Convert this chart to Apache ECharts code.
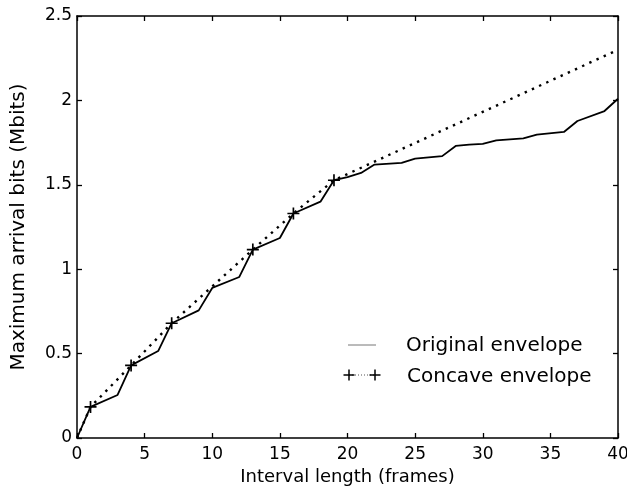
<!DOCTYPE html>
<html><head><meta charset="utf-8">
<script src="https://cdn.jsdelivr.net/npm/echarts@6/dist/echarts.min.js"></script>
<style>html,body{margin:0;padding:0;background:#fff}#c{width:627px;height:489px}</style>
</head><body><div id="c"></div>
<script>
// Original envelope (kink points, x in frames, y in Mbits)
const origX = [0, 1, 3, 4, 6, 7, 9, 10, 12, 13, 15, 16, 18, 19, 20, 21, 22, 24, 25, 27, 28, 29, 30, 31, 33, 34, 36, 37, 39, 40];
const origY = [0, 0.184, 0.255, 0.43, 0.515, 0.68, 0.756, 0.889, 0.954, 1.116, 1.185, 1.33, 1.40, 1.527, 1.546, 1.57, 1.62, 1.63, 1.655, 1.67, 1.73, 1.738, 1.742, 1.763, 1.775, 1.797, 1.813, 1.878, 1.937, 2.01];
// Concave envelope
const concX = [0, 1, 4, 7, 13, 16, 19, 40];
const concY = [0, 0.184, 0.43, 0.68, 1.116, 1.33, 1.527, 2.30];
const concMarked = [false, true, true, true, true, true, true, false];
const xTicks = [0, 5, 10, 15, 20, 25, 30, 35, 40];
const yTicks = [0, 0.5, 1, 1.5, 2, 2.5];

const plus = 'path://M4.3,0h1.4v10h-1.4z M0,4.3h10v1.4h-10z';
const font = 'DejaVu Sans, sans-serif';
const chart = echarts.init(document.getElementById('c'), null, {renderer: 'canvas'});
const axisCommon = {
  axisLine: {show: true, onZero: false, lineStyle: {color: '#000', width: 1.5}},
  axisTick: {show: true, inside: true, length: 5, lineStyle: {color: '#000', width: 1.3}},
  splitLine: {show: false}
};
function crossG(cx, cy) {
  return [
    {type: 'line', shape: {x1: cx - 5.5, y1: cy, x2: cx + 5.5, y2: cy}, style: {stroke: '#000', lineWidth: 1.5}},
    {type: 'line', shape: {x1: cx, y1: cy - 5.5, x2: cx, y2: cy + 5.5}, style: {stroke: '#000', lineWidth: 1.5}}
  ];
}
chart.setOption({
  animation: false,
  backgroundColor: '#fff',
  grid: {left: 77, right: 9, top: 16, bottom: 51, containLabel: false, outerBoundsMode: 'none'},
  xAxis: [
    Object.assign({type: 'value', min: 0, max: 40, interval: 5, position: 'bottom',
      name: 'Interval length (frames)', nameLocation: 'middle', nameGap: 29,
      nameTextStyle: {fontFamily: font, fontSize: 18, color: '#000'},
      axisLabel: {fontFamily: font, fontSize: 17, color: '#000', margin: 8,
        formatter: v => xTicks.includes(v) ? String(v) : ''}}, axisCommon),
    Object.assign({type: 'value', min: 0, max: 40, interval: 5, position: 'top',
      axisLabel: {show: false}}, axisCommon)
  ],
  yAxis: [
    Object.assign({type: 'value', min: 0, max: 2.5, interval: 0.5, position: 'left',
      name: 'Maximum arrival bits (Mbits)', nameLocation: 'middle', nameGap: 48, nameRotate: 90,
      nameTextStyle: {fontFamily: font, fontSize: 20, color: '#000'},
      axisLabel: {fontFamily: font, fontSize: 17, color: '#000', margin: 5,
        formatter: v => yTicks.includes(v) ? String(v) : ''}}, axisCommon),
    Object.assign({type: 'value', min: 0, max: 2.5, interval: 0.5, position: 'right',
      axisLabel: {show: false}}, axisCommon)
  ],
  series: [
    {
      type: 'line', name: 'Original envelope',
      data: origX.map((x, i) => [x, origY[i]]),
      symbol: 'none', lineStyle: {color: '#000', width: 1.8}, z: 3
    },
    {
      type: 'line', name: 'Concave envelope',
      data: concX.map((x, i) => ({value: [x, concY[i]], symbol: concMarked[i] ? plus : 'none'})),
      symbolSize: 12, showSymbol: true,
      itemStyle: {color: '#000'},
      lineStyle: {color: '#000', width: 2.4, type: [2.4, 5.5]}, z: 4
    }
  ],
  graphic: [
    {type: 'line', shape: {x1: 348, y1: 345, x2: 376, y2: 345}, style: {stroke: '#777', lineWidth: 1}},
    {type: 'text', x: 406, y: 346, style: {text: 'Original envelope', font: '20px ' + font, fill: '#000', textVerticalAlign: 'middle', verticalAlign: 'middle'}},
    {type: 'line', shape: {x1: 349, y1: 375, x2: 375, y2: 375}, style: {stroke: '#555', lineWidth: 1, lineDash: [1, 2]}}
  ].concat(crossG(349, 375), crossG(375, 375), [
    {type: 'text', x: 407, y: 377, style: {text: 'Concave envelope', font: '20px ' + font, fill: '#000', textVerticalAlign: 'middle', verticalAlign: 'middle'}}
  ])
});
</script></body></html>
